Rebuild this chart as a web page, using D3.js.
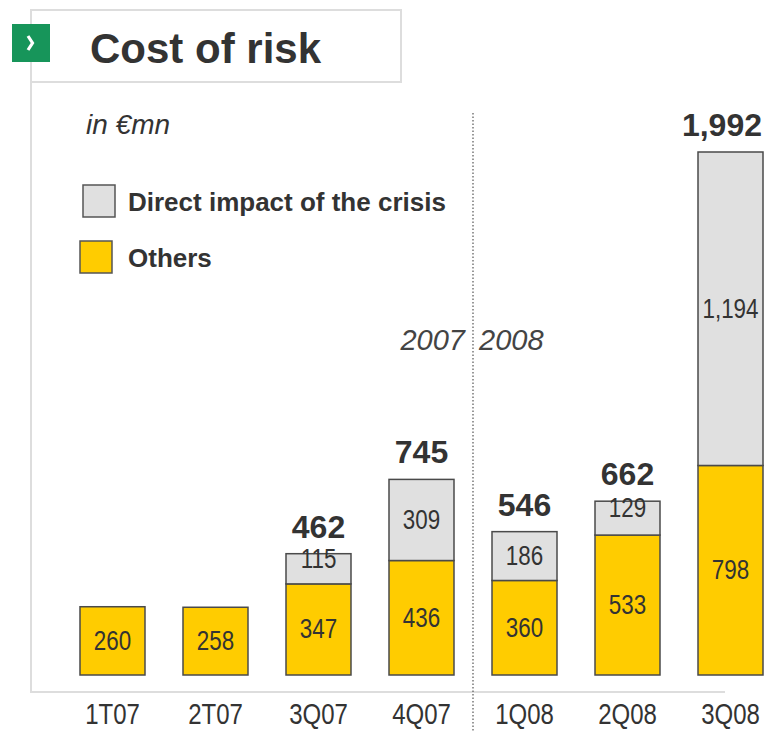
<!DOCTYPE html>
<html>
<head>
<meta charset="utf-8">
<script src="https://cdn.jsdelivr.net/npm/d3@7"></script>
<style>
  html, body { margin: 0; padding: 0; background: #fff; }
  svg { display: block; }
</style>
</head>
<body>
<div id="chart"></div>
<script>
// Quarter labels and series values (EUR mn)
const quarters = ['1T07', '2T07', '3Q07', '4Q07', '1Q08', '2Q08', '3Q08'];
const others = [260, 258, 347, 436, 360, 533, 798];
const crisis = [0, 0, 115, 309, 186, 129, 1194];
const totals = [null, null, 462, 745, 546, 662, 1992];
const seriesNames = ['Direct impact of the crisis', 'Others'];

const width = 766, height = 732;
const W = { left: 31, right: 725, base: 675, axis: 692, top: 152 };
const sans = 'Arial, "Liberation Sans", sans-serif';
const dark = '#333';
const narrow = 0.8; // horizontal squeeze for the condensed number font

const svg = d3.select('#chart').append('svg')
  .attr('width', width)
  .attr('height', height);

// frame: title box + left/bottom rules
svg.append('rect')
  .attr('x', 31).attr('y', 10).attr('width', 370).attr('height', 72)
  .attr('fill', '#fff').attr('stroke', '#ddd').attr('stroke-width', 2);
svg.append('path')
  .attr('d', `M${W.left},82V${W.axis}H${W.right}`)
  .attr('fill', 'none').attr('stroke', '#ddd').attr('stroke-width', 2);

// green arrow badge
svg.append('rect')
  .attr('x', 12).attr('y', 24).attr('width', 38).attr('height', 38)
  .attr('fill', '#17955a');
svg.append('path')
  .attr('d', 'M28,36 L32.5,43 L28,50')
  .attr('fill', 'none').attr('stroke', '#fff').attr('stroke-width', 3.2);
svg.append('text')
  .attr('x', 90).attr('y', 63)
  .attr('font-family', sans)
  .attr('font-weight', 'bold').attr('font-size', 42)
  .attr('fill', dark)
  .text('Cost of risk');

// scales
const x = d3.scaleBand()
  .domain(quarters)
  .range([80, 763])
  .paddingInner(0.369)
  .paddingOuter(0);

const y = d3.scaleLinear()
  .domain([0, 1992])
  .range([W.base, W.top]);

// 2007 / 2008 divider
const divX = (x('4Q07') + x.bandwidth() + x('1Q08')) / 2;
svg.append('line')
  .attr('x1', divX).attr('x2', divX)
  .attr('y1', 113).attr('y2', height)
  .attr('stroke', '#555').attr('stroke-width', 1.2)
  .attr('stroke-dasharray', '1.5,2');

svg.append('text')
  .attr('x', divX - 8).attr('y', 350)
  .attr('text-anchor', 'end')
  .attr('font-family', sans).attr('font-style', 'italic')
  .attr('font-size', 29).attr('fill', '#444')
  .text('2007');
svg.append('text')
  .attr('x', divX + 6).attr('y', 350)
  .attr('font-family', sans).attr('font-style', 'italic')
  .attr('font-size', 29).attr('fill', '#444')
  .text('2008');

svg.append('text')
  .attr('x', 86).attr('y', 134)
  .attr('font-family', sans).attr('font-style', 'italic')
  .attr('font-size', 28).attr('fill', dark)
  .text('in €mn');

// legend
const legendColors = ['#e0e0e0', '#ffcc00'];
const legend = svg.append('g')
  .selectAll('g')
  .data(seriesNames)
  .join('g')
  .attr('transform', (d, i) => `translate(${i ? 80 : 83},${i ? 241 : 185})`);
legend.append('rect')
  .attr('width', 32).attr('height', 32)
  .attr('fill', (d, i) => legendColors[i])
  .attr('stroke', '#555').attr('stroke-width', 1.5);
legend.append('text')
  .attr('x', (d, i) => i ? 48 : 45)
  .attr('y', 26)
  .attr('font-family', sans).attr('font-weight', 'bold')
  .attr('font-size', 26).attr('fill', dark)
  .text(d => d);

// stacked bars
const stack = d3.stack().keys(['others', 'crisis'])(
  quarters.map((q, i) => ({ q, others: others[i], crisis: crisis[i] }))
);
const fills = { others: '#ffcc00', crisis: '#e0e0e0' };

const layers = svg.append('g')
  .selectAll('g')
  .data(stack)
  .join('g')
  .attr('fill', d => fills[d.key]);

layers.selectAll('rect')
  .data(d => d.filter(s => s[1] > s[0]))
  .join('rect')
  .attr('x', d => x(d.data.q))
  .attr('y', d => y(d[1]))
  .attr('width', x.bandwidth())
  .attr('height', d => y(d[0]) - y(d[1]))
  .attr('stroke', '#4a4a4a').attr('stroke-width', 1.5);

// segment value labels (small segments nudged up like the source)
layers.selectAll('text')
  .data(d => d.filter(s => s[1] > s[0]))
  .join('text')
  .attr('transform', d => {
    const h = y(d[0]) - y(d[1]);
    const mid = (y(d[0]) + y(d[1])) / 2;
    const ty = (h < 40 ? mid - 10 : mid) + 9;
    return `translate(${x(d.data.q) + x.bandwidth() / 2},${ty}) scale(${narrow},1)`;
  })
  .attr('text-anchor', 'middle')
  .attr('font-family', sans)
  .attr('font-size', 28).attr('fill', dark)
  .text(d => d3.format(',')(d[1] - d[0]));

// totals above bars, kept inside the right edge
svg.append('g')
  .selectAll('text')
  .data(quarters.filter((q, i) => totals[i] != null))
  .join('text')
  .attr('x', q => x(q) + x.bandwidth() / 2)
  .attr('y', q => y(totals[quarters.indexOf(q)]) - 16)
  .attr('text-anchor', 'middle')
  .attr('font-family', sans).attr('font-weight', 'bold')
  .attr('font-size', 32).attr('fill', dark)
  .text(q => d3.format(',')(totals[quarters.indexOf(q)]))
  .each(function () {
    const t = d3.select(this);
    const half = this.getComputedTextLength() / 2;
    const cx = +t.attr('x');
    if (cx + half > width - 4) t.attr('x', width - 4 - half);
  });

// category axis
const axis = svg.append('g')
  .attr('transform', `translate(0,${W.axis})`)
  .call(d3.axisBottom(x).tickSize(0).tickPadding(0));
axis.select('.domain').remove();
axis.selectAll('text')
  .attr('y', 0)
  .attr('dy', 0)
  .attr('transform', `translate(0,32) scale(${narrow},1)`)
  .attr('font-family', sans)
  .attr('font-size', 30)
  .attr('fill', dark);
</script>
</body>
</html>
